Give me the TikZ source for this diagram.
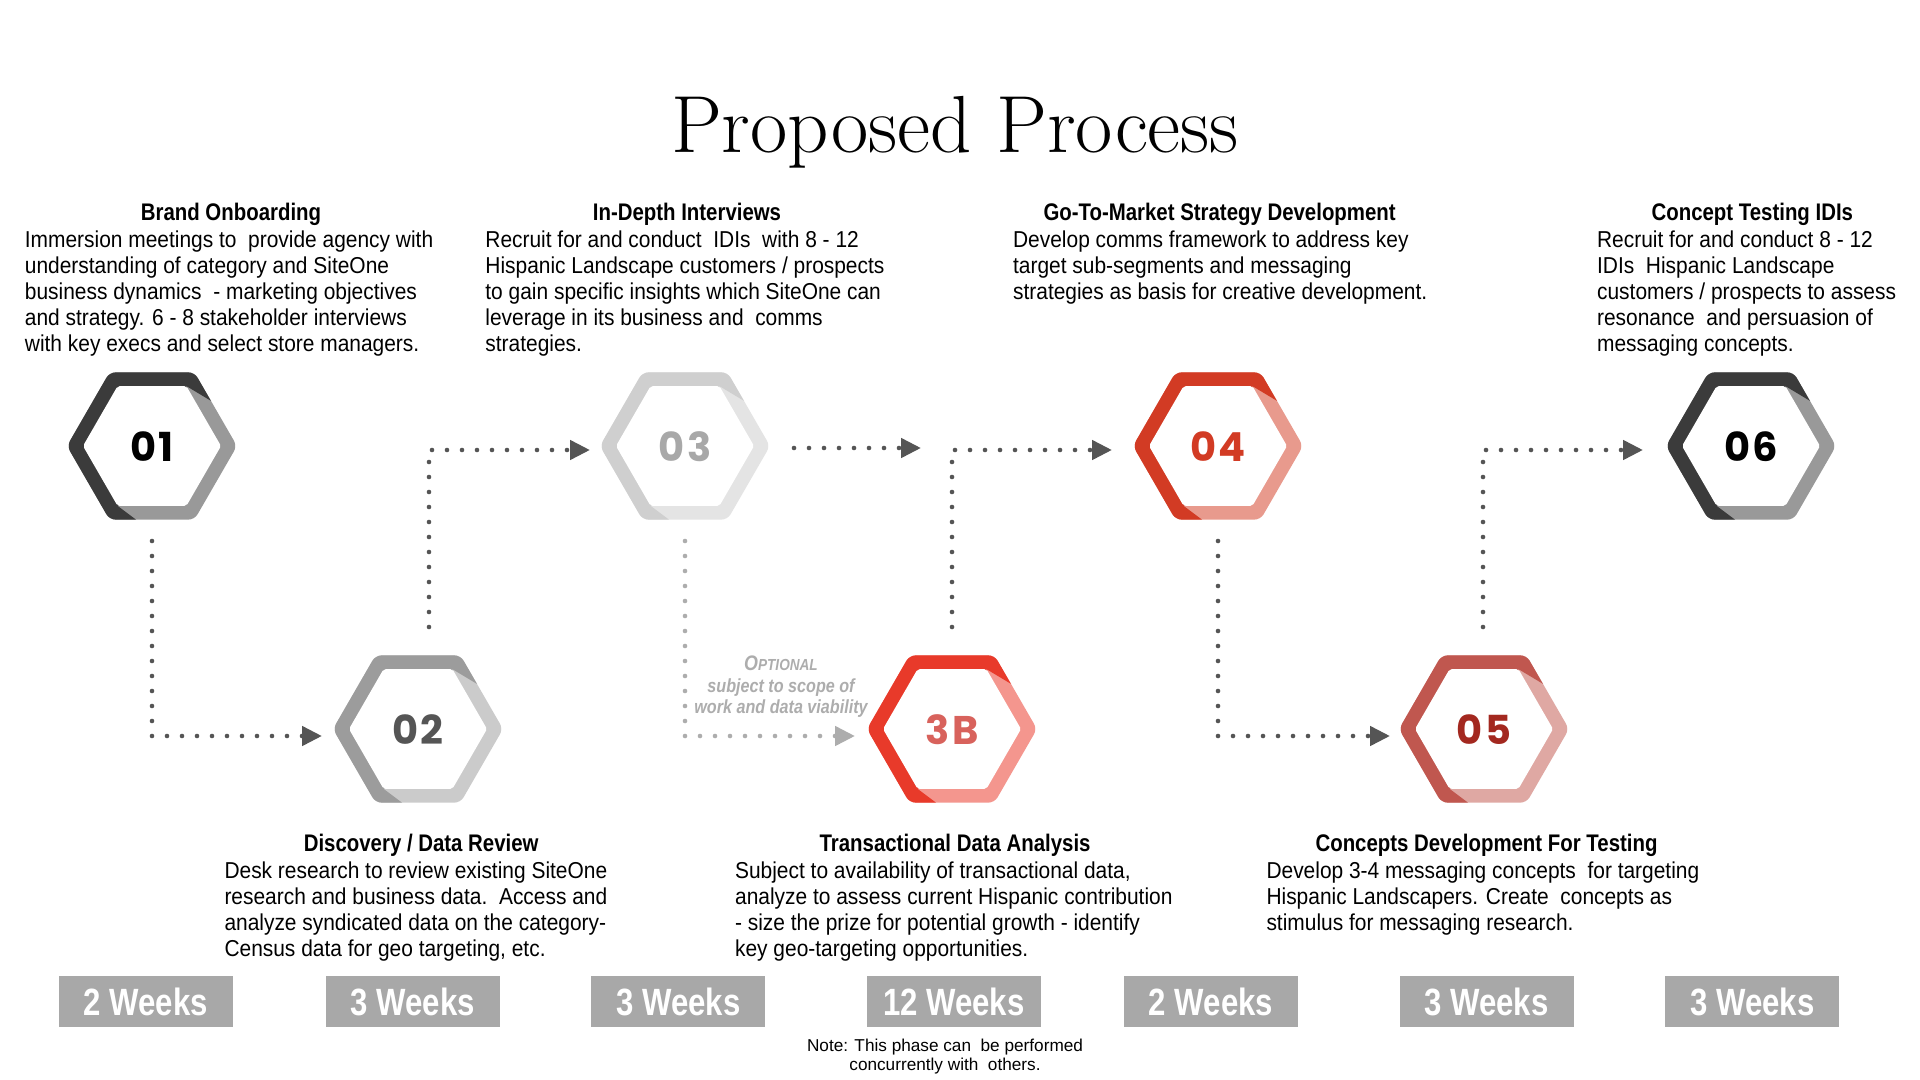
\documentclass[tikz,border=0pt]{standalone}
\usepackage{fontspec}
\usetikzlibrary{arrows.meta}
\newfontfamily\bodyfont{Liberation Sans}[FakeStretch=0.91]
\newfontfamily\headfont{Liberation Sans}[FakeStretch=0.85]
\newfontfamily\weekfont{Liberation Sans}[FakeStretch=0.82]
\newfontfamily\notefont{Liberation Sans}
\newfontfamily\optfont{Liberation Sans}[FakeStretch=0.85]
\newfontfamily\hexfont{Poppins}[LetterSpace=6]

\definecolor{gdark}{HTML}{3B3B3B}
\definecolor{glight}{HTML}{999999}
\definecolor{mdark}{HTML}{9C9C9C}
\definecolor{mlight}{HTML}{CBCBCB}
\definecolor{mtext}{HTML}{555555}
\definecolor{ldark}{HTML}{CFCFCF}
\definecolor{llight}{HTML}{E4E4E4}
\definecolor{ltext}{HTML}{A8A8A8}
\definecolor{bdark}{HTML}{E83A2A}
\definecolor{blight}{HTML}{F4968E}
\definecolor{btext}{HTML}{D8625C}
\definecolor{rdark}{HTML}{D23B24}
\definecolor{rlight}{HTML}{E89A8D}
\definecolor{rtext}{HTML}{D23B24}
\definecolor{sdark}{HTML}{C0574F}
\definecolor{slight}{HTML}{DFA8A3}
\definecolor{stext}{HTML}{A3281F}
\definecolor{conncol}{HTML}{555555}
\definecolor{optcol}{HTML}{ADADAD}
\definecolor{boxgray}{HTML}{A8A8A8}

\newcommand\HexRing[3]{%
  \begin{scope}[shift={#1}]
    \fill[#3, rounded corners=3pt] (0:85) -- (60:85) -- (120:85) -- (180:85) -- (240:85) -- (300:85) -- cycle;
    \begin{scope}
      \clip[rounded corners=3pt] (0:85) -- (60:85) -- (120:85) -- (180:85) -- (240:85) -- (300:85) -- cycle;
      \fill[#2] (34.5,-59.8) -- (134.5,0.2) -- (134.5,-150) -- (-150,-150) -- (-150,150) -- (65.5,134.8) -- (-34.5,59.8) -- cycle;
    \end{scope}
    \fill[white, rounded corners=1pt] (0:69) -- (60:69) -- (120:69) -- (180:69) -- (240:69) -- (300:69) -- cycle;
  \end{scope}}

\tikzset{
  conn/.style={draw=conncol, line width=2.3pt, line cap=round, dash pattern=on 0pt off 7.5pt,
    -{Triangle[length=10pt,width=9.5pt]}},
  optconn/.style={conn, draw=optcol},
  hexnum/.style={font=\hexfont\bfseries\fontsize{20}{24}\selectfont, inner sep=0pt},
  heading/.style={font=\headfont\bfseries\fontsize{12}{14}\selectfont, anchor=base, inner sep=0pt},
  body/.style={font=\bodyfont\fontsize{11.5}{13}\selectfont, align=left, anchor=north west, inner sep=0pt},
  week/.style={fill=boxgray, text=white, minimum width=87pt, minimum height=25.5pt, inner sep=0pt,
    font=\weekfont\bfseries\fontsize{19}{22}\selectfont},
}

\begin{document}
\begin{tikzpicture}[x=0.5pt, y=-0.5pt]
\fill[white] (0,0) rectangle (1920,1080);
\useasboundingbox (0,0) rectangle (1920,1080);

% title
\node[anchor=base, inner sep=0pt, font=\rmfamily\addfontfeatures{FakeBold=1}\fontsize{40.5}{43}\selectfont] (title) at (955,153) {Proposed Process};

% hexagons
\HexRing{(152,446)}{gdark}{glight}
\HexRing{(418,729)}{mdark}{mlight}
\HexRing{(685,446)}{ldark}{llight}
\HexRing{(952,729)}{bdark}{blight}
\HexRing{(1218,446)}{rdark}{rlight}
\HexRing{(1484,729)}{sdark}{slight}
\HexRing{(1751,446)}{gdark}{glight}

\node[hexnum, text=black] (h01) at (152,447) {01};
\node[hexnum, text=mtext] (h02) at (418,730) {02};
\node[hexnum, text=ltext] (h03) at (685,447) {03};
\node[hexnum, text=btext] (h3b) at (952,730) {3B};
\node[hexnum, text=rtext] (h04) at (1218,447) {04};
\node[hexnum, text=stext] (h05) at (1484,730) {05};
\node[hexnum, text=black] (h06) at (1751,447) {06};

% connectors
\coordinate (a1) at (152,541);  \coordinate (b1) at (322,736);
\coordinate (a2) at (429,627);  \coordinate (b2) at (590,450);
\coordinate (a3) at (685,541);  \coordinate (b3) at (855,736);
\coordinate (a4) at (794,448);  \coordinate (b4) at (921,448);
\coordinate (a5) at (952,627);  \coordinate (b5) at (1112,450);
\coordinate (a6) at (1218,541); \coordinate (b6) at (1390,736);
\coordinate (a7) at (1483,627); \coordinate (b7) at (1643,450);
\draw[conn] (a1) |- (b1);
\draw[conn] (a2) |- (b2);
\draw[optconn] (a3) |- (b3);
\draw[conn] (a4) -- (b4);
\draw[conn] (a5) |- (b5);
\draw[conn] (a6) |- (b6);
\draw[conn] (a7) |- (b7);

% optional label
\node[align=center, inner sep=0pt, text=optcol, font=\optfont\bfseries\itshape\fontsize{9.5}{10.75}\selectfont] (opt) at (781,687)
  {{\fontsize{10.5}{10.75}\selectfont O}{\fontsize{8}{10.75}\selectfont PTIONAL}\\subject to scope of\\work and data viability};

% top texts
\node[heading] (t1) at (231,221) {Brand Onboarding};
\node[body] (d1) at (24.5,229) {\strut Immersion meetings to\ \ provide agency with\\
understanding of category and SiteOne\\
business dynamics\ \ - marketing objectives\\
and strategy. 6 - 8 stakeholder interviews\\
with key execs and select store managers.};

\node[heading] (t3) at (687,221) {In-Depth Interviews};
\node[body] (d3) at (485,229) {\strut Recruit for and conduct\ \ IDIs\ \ with 8 - 12\\
Hispanic Landscape customers / prospects\\
to gain specific insights which SiteOne can\\
leverage in its business and\ \ comms\\
strategies.};

\node[heading] (t4) at (1219.6,221) {Go-To-Market Strategy Development};
\node[body] (d4) at (1012.7,229) {\strut Develop comms framework to address key\\
target sub-segments and messaging\\
strategies as basis for creative development.};

\node[heading] (t6) at (1752.3,221) {Concept Testing IDIs};
\node[body] (d6) at (1596.7,229) {\strut Recruit for and conduct 8 - 12\\
IDIs\ \ Hispanic Landscape\\
customers / prospects to assess\\
resonance\ \ and persuasion of\\
messaging concepts.};

% bottom texts
\node[heading] (t2) at (421.2,851.5) {Discovery / Data Review};
\node[body] (d2) at (224.1,859.6) {\strut Desk research to review existing SiteOne\\
research and business data.\ \ Access and\\
analyze syndicated data on the category-\\
Census data for geo targeting, etc.};

\node[heading] (t3b) at (955.1,851.5) {Transactional Data Analysis};
\node[body] (d3b) at (734.7,859.6) {\strut Subject to availability of transactional data,\\
analyze to assess current Hispanic contribution\\
- size the prize for potential growth - identify\\
key geo-targeting opportunities.};

\node[heading] (t5) at (1486.5,851.5) {Concepts Development For Testing};
\node[body] (d5) at (1266.1,859.6) {\strut Develop 3-4 messaging concepts\ \ for targeting\\
Hispanic Landscapers. Create\ \ concepts as\\
stimulus for messaging research.};

% week boxes
\node[week] (w1) at (145.7,1001.5) {2 Weeks};
\node[week] (w2) at (412.7,1001.5) {3 Weeks};
\node[week] (w3) at (678.4,1001.5) {3 Weeks};
\node[week] (w4) at (953.9,1001.5) {12 Weeks};
\node[week] (w5) at (1211,1001.5) {2 Weeks};
\node[week] (w6) at (1486.5,1001.5) {3 Weeks};
\node[week] (w7) at (1752.3,1001.5) {3 Weeks};

% note
\node[align=center, inner sep=0pt, font=\notefont\fontsize{8.6}{9.75}\selectfont] (note) at (945,1056.5)
  {Note: This phase can\ \ be performed\\concurrently with\ \ others.};
\end{tikzpicture}
\end{document}
